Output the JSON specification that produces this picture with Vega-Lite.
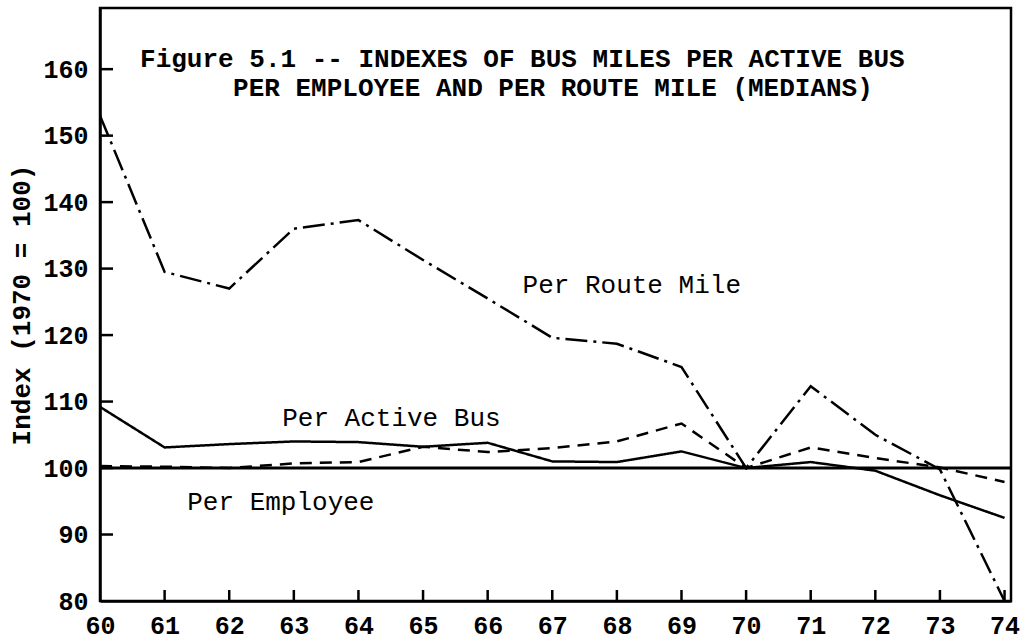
{
  "$schema": "https://vega.github.io/schema/vega-lite/v6.json",
  "width": 911,
  "height": 593,
  "autosize": "none",
  "padding": {"left": 100, "top": 8, "right": 10, "bottom": 39},
  "background": "white",
  "config": {
    "view": {"stroke": "black", "strokeWidth": 2.5},
    "font": "Liberation Mono",
    "axis": {
      "domainColor": "black", "domainWidth": 2.5,
      "labelColor": "black", "labelFont": "Liberation Mono", "labelFontSize": 25, "labelFontWeight": "bold",
      "titleColor": "black", "titleFont": "Liberation Mono", "titleFontSize": 26, "titleFontWeight": "bold",
      "grid": false
    }
  },
  "resolve": {"axis": {"x": "independent", "y": "independent"}},
  "layer": [
    {
      "data": {"values": [{}]},
      "mark": {"type": "rule", "color": "black", "strokeWidth": 3},
      "encoding": {"y": {"datum": 100, "axis": null}}
    },
    {
      "data": {"values": [{"year": 61}, {"year": 62}, {"year": 63}, {"year": 64}, {"year": 65}, {"year": 66}, {"year": 67}, {"year": 68}, {"year": 69}, {"year": 70}, {"year": 71}, {"year": 72}, {"year": 73}, {"year": 74}]},
      "mark": {"type": "tick", "orient": "vertical", "size": 22, "thickness": 2.5, "color": "black", "opacity": 1, "clip": true},
      "encoding": {
        "x": {"field": "year", "type": "quantitative", "axis": null},
        "y": {"datum": 80, "type": "quantitative", "axis": null}
      }
    },
    {
      "data": {"values": [{"index": 90}, {"index": 100}, {"index": 110}, {"index": 120}, {"index": 130}, {"index": 140}, {"index": 150}, {"index": 160}]},
      "mark": {"type": "tick", "orient": "horizontal", "size": 26, "thickness": 2.5, "color": "black", "opacity": 1, "clip": true},
      "encoding": {
        "y": {"field": "index", "type": "quantitative", "axis": null},
        "x": {"datum": 60, "type": "quantitative", "axis": null}
      }
    },
    {
      "data": {"values": [
        {"year": 60, "series": "Per Route Mile", "value": 153},
        {"year": 61, "series": "Per Route Mile", "value": 129.5},
        {"year": 62, "series": "Per Route Mile", "value": 127},
        {"year": 63, "series": "Per Route Mile", "value": 136},
        {"year": 64, "series": "Per Route Mile", "value": 137.3},
        {"year": 65, "series": "Per Route Mile", "value": 131.3},
        {"year": 66, "series": "Per Route Mile", "value": 125.5},
        {"year": 67, "series": "Per Route Mile", "value": 119.6},
        {"year": 68, "series": "Per Route Mile", "value": 118.7},
        {"year": 69, "series": "Per Route Mile", "value": 115.2},
        {"year": 70, "series": "Per Route Mile", "value": 100},
        {"year": 71, "series": "Per Route Mile", "value": 112.3},
        {"year": 72, "series": "Per Route Mile", "value": 105},
        {"year": 73, "series": "Per Route Mile", "value": 99.8},
        {"year": 74, "series": "Per Route Mile", "value": 80},
        {"year": 60, "series": "Per Active Bus", "value": 109.2},
        {"year": 61, "series": "Per Active Bus", "value": 103.1},
        {"year": 62, "series": "Per Active Bus", "value": 103.6},
        {"year": 63, "series": "Per Active Bus", "value": 104.0},
        {"year": 64, "series": "Per Active Bus", "value": 103.9},
        {"year": 65, "series": "Per Active Bus", "value": 103.2},
        {"year": 66, "series": "Per Active Bus", "value": 103.8},
        {"year": 67, "series": "Per Active Bus", "value": 101.0},
        {"year": 68, "series": "Per Active Bus", "value": 100.9},
        {"year": 69, "series": "Per Active Bus", "value": 102.5},
        {"year": 70, "series": "Per Active Bus", "value": 100},
        {"year": 71, "series": "Per Active Bus", "value": 100.9},
        {"year": 72, "series": "Per Active Bus", "value": 99.6},
        {"year": 73, "series": "Per Active Bus", "value": 95.9},
        {"year": 74, "series": "Per Active Bus", "value": 92.5},
        {"year": 60, "series": "Per Employee", "value": 100.3},
        {"year": 61, "series": "Per Employee", "value": 100.2},
        {"year": 62, "series": "Per Employee", "value": 100.0},
        {"year": 63, "series": "Per Employee", "value": 100.7},
        {"year": 64, "series": "Per Employee", "value": 100.9},
        {"year": 65, "series": "Per Employee", "value": 103.2},
        {"year": 66, "series": "Per Employee", "value": 102.4},
        {"year": 67, "series": "Per Employee", "value": 103.0},
        {"year": 68, "series": "Per Employee", "value": 104.0},
        {"year": 69, "series": "Per Employee", "value": 106.7},
        {"year": 70, "series": "Per Employee", "value": 100},
        {"year": 71, "series": "Per Employee", "value": 103.1},
        {"year": 72, "series": "Per Employee", "value": 101.5},
        {"year": 73, "series": "Per Employee", "value": 100.1},
        {"year": 74, "series": "Per Employee", "value": 97.9}
      ]},
      "mark": {"type": "line", "color": "black", "strokeWidth": 2.5, "clip": true},
      "encoding": {
        "x": {
          "field": "year", "type": "quantitative",
          "scale": {"domain": [60, 74.1], "nice": false, "zero": false},
          "axis": {"orient": "bottom", "values": [60,61,62,63,64,65,66,67,68,69,70,71,72,73,74], "format": "d", "title": null, "ticks": false, "tickSize": 0, "labelPadding": 12, "labelFlush": false}
        },
        "y": {
          "field": "value", "type": "quantitative",
          "scale": {"domain": [80, 169.2], "nice": false, "zero": false},
          "axis": {"orient": "left", "values": [80,90,100,110,120,130,140,150,160], "format": "d", "title": "Index (1970 = 100)", "ticks": false, "tickSize": 0, "labelPadding": 12, "titlePadding": 8, "labelFlush": false}
        },
        "detail": {"field": "series"},
        "strokeDash": {
          "field": "series", "type": "nominal",
          "scale": {"domain": ["Per Active Bus", "Per Employee", "Per Route Mile"], "range": [[1, 0], [12, 8], [22, 6, 3, 6]]},
          "legend": null
        }
      }
    },
    {
      "data": {"values": [{}]},
      "mark": {"type": "text", "text": "Figure 5.1 -- INDEXES OF BUS MILES PER ACTIVE BUS", "align": "left", "baseline": "alphabetic", "fontSize": 26, "fontWeight": "bold", "color": "black", "font": "Liberation Mono"},
      "encoding": {"x": {"datum": 60.62, "axis": null}, "y": {"datum": 160.3, "axis": null}}
    },
    {
      "data": {"values": [{}]},
      "mark": {"type": "text", "text": "PER EMPLOYEE AND PER ROUTE MILE (MEDIANS)", "align": "left", "baseline": "alphabetic", "fontSize": 26, "fontWeight": "bold", "color": "black", "font": "Liberation Mono"},
      "encoding": {"x": {"datum": 62.06, "axis": null}, "y": {"datum": 155.9, "axis": null}}
    },
    {
      "data": {"values": [{}]},
      "mark": {"type": "text", "text": "Per Route Mile", "align": "left", "baseline": "alphabetic", "fontSize": 26, "fontWeight": "normal", "color": "black", "font": "Liberation Mono"},
      "encoding": {"x": {"datum": 66.54, "axis": null}, "y": {"datum": 126.3, "axis": null}}
    },
    {
      "data": {"values": [{}]},
      "mark": {"type": "text", "text": "Per Active Bus", "align": "left", "baseline": "alphabetic", "fontSize": 26, "fontWeight": "normal", "color": "black", "font": "Liberation Mono"},
      "encoding": {"x": {"datum": 62.82, "axis": null}, "y": {"datum": 106.3, "axis": null}}
    },
    {
      "data": {"values": [{}]},
      "mark": {"type": "text", "text": "Per Employee", "align": "left", "baseline": "alphabetic", "fontSize": 26, "fontWeight": "normal", "color": "black", "font": "Liberation Mono"},
      "encoding": {"x": {"datum": 61.35, "axis": null}, "y": {"datum": 93.7, "axis": null}}
    }
  ]
}
